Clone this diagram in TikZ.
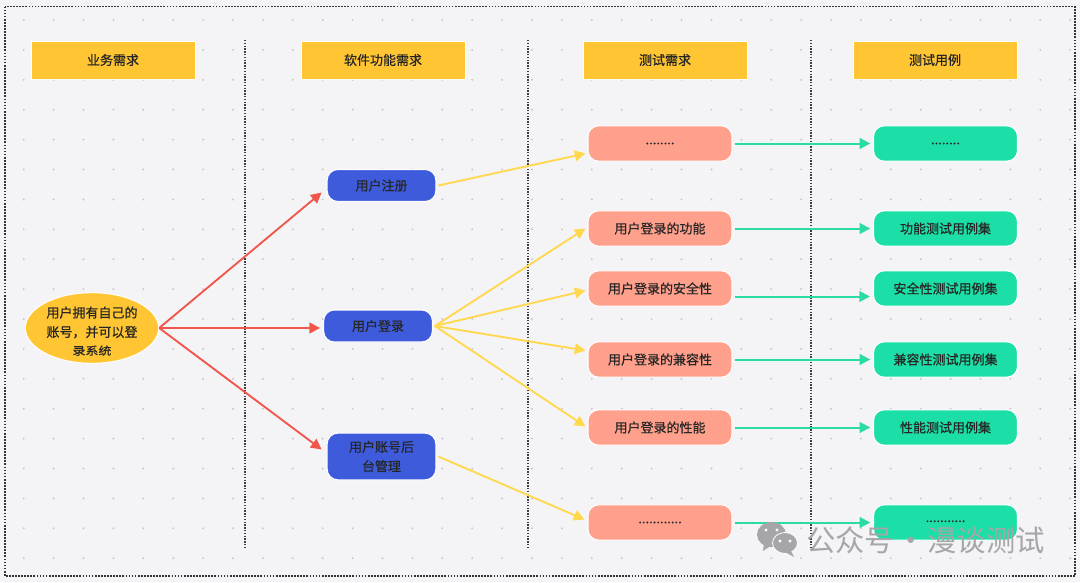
\documentclass[tikz,border=0pt]{standalone}
\usepackage{fontspec}
\setmainfont[FakeBold=0.6,AutoFakeBold=0.6]{Noto Sans CJK SC}
\newfontfamily\markfont{Noto Sans CJK SC}
\usetikzlibrary{arrows.meta,shapes.geometric}
\definecolor{pagebg}{HTML}{F4F4F7}
\definecolor{griddot}{HTML}{C9C9CE}
\definecolor{headfill}{HTML}{FFC533}
\definecolor{funcfill}{HTML}{3D5BDB}
\definecolor{testfill}{HTML}{FFA08C}
\definecolor{casefill}{HTML}{1BDFA6}
\definecolor{redline}{HTML}{F0564A}
\definecolor{yellowline}{HTML}{FFD84D}
\definecolor{greenline}{HTML}{2ADBA6}
\definecolor{markgray}{HTML}{A6A6A8}
\tikzset{
  nodetext/.style={font=\fontsize{9.75pt}{14.5pt}\selectfont,text=black!85,align=center,inner sep=0pt},
  headbox/.style={nodetext,fill=headfill,draw=white,line width=0.5pt,minimum width=123pt,minimum height=28.5pt},
  funcbox/.style={nodetext,fill=funcfill,draw=white,line width=0.8pt,rounded corners=8pt,minimum width=81.5pt,minimum height=24pt},
  testbox/.style={nodetext,fill=testfill,draw=white,line width=0.8pt,rounded corners=8pt,minimum width=108pt,minimum height=26.5pt},
  casebox/.style={nodetext,fill=casefill,draw=white,line width=0.8pt,rounded corners=8pt,minimum width=108pt,minimum height=26.5pt},
  divider/.style={densely dotted,line width=1.1pt,black!75},
  redarrow/.style={->,redline,line width=1.4pt},
  yellowarrow/.style={->,yellowline,line width=1.4pt},
  greenarrow/.style={->,greenline,line width=1.5pt}
}
\begin{document}
\begin{tikzpicture}[x=0.75pt,y=-0.75pt,>={Stealth[inset=0pt,length=8pt,width=8pt]}]
\useasboundingbox (0,0) rectangle (1080,582);
\fill[pagebg] (0,0) rectangle (1080,582);
\foreach \i in {0,...,35} \foreach \j in {0,...,18}
  \fill[griddot] (23.7+29.9*\i,20+29.9*\j) circle (1.1);
\draw[densely dotted,line width=1.3pt,black!80] (5,6.5) rectangle (1075,576);
\draw[divider] (245,40) -- (245,547);
\draw[divider] (528,40) -- (528,547);
\draw[divider] (811,40) -- (811,547);

\node[headbox] (head1) at (113,60) {业务需求};
\node[headbox] (head2) at (383,60) {软件功能需求};
\node[headbox] (head3) at (665,60) {测试需求};
\node[headbox] (head4) at (935,60) {测试用例};

\node[ellipse,nodetext,inner sep=-5pt,fill=headfill,draw=white,line width=0.8pt,minimum width=100pt,minimum height=53pt] (goal) at (92,328)
  {\rule{0pt}{13pt}用户拥有自己的\\账号，并可以登\\[-1pt]\scalebox{1}[0.85]{录系统}};

\node[funcbox] (reg) at (381.5,185.5) {用户注册};
\node[funcbox] (login) at (378,326) {用户登录};
\node[funcbox,minimum height=35pt] (admin) at (381.5,456.5) {用户账号后\\台管理};

\node[testbox] (test1) at (660,143.5) {........};
\node[testbox] (test2) at (660,228.5) {用户登录的功能};
\node[testbox] (test3) at (660,288.5) {用户登录的安全性};
\node[testbox] (test4) at (660,359.5) {用户登录的兼容性};
\node[testbox] (test5) at (660,427.5) {用户登录的性能};
\node[testbox] (test6) at (660,522.5) {............};

\node[casebox] (case1) at (945.5,143.5) {........};
\node[casebox] (case2) at (945.5,228.5) {功能测试用例集};
\node[casebox] (case3) at (945.5,288.5) {安全性测试用例集};
\node[casebox] (case4) at (945.5,359.5) {兼容性测试用例集};
\node[casebox] (case5) at (945.5,427.5) {性能测试用例集};
\node[casebox] (case6) at (945.5,522.5) {\raisebox{2pt}{...........}};

\draw[redarrow] (goal.east) -- ([shift={(-5,7)}]reg.west);
\draw[redarrow] (goal.east) -- ([shift={(-3,2)}]login.west);
\draw[redarrow] (goal.east) -- ([shift={(-5,-7)}]admin.west);

\draw[yellowarrow] ([xshift=1.5pt]reg.east) -- ([shift={(-2,10)}]test1.west);
\draw[yellowarrow] ([xshift=1.5pt]login.east) -- ([shift={(-2,0)}]test2.west);
\draw[yellowarrow] ([xshift=1.5pt]login.east) -- ([shift={(-2,2)}]test3.west);
\draw[yellowarrow] ([xshift=1.5pt]login.east) -- ([shift={(-2,-9)}]test4.west);
\draw[yellowarrow] ([xshift=1.5pt]login.east) -- ([shift={(-2,-1)}]test5.west);
\draw[yellowarrow] ([xshift=1.5pt]admin.east) -- ([shift={(-3,-3)}]test6.west);

\draw[greenarrow] ([xshift=1.5pt]test1.east) -- ([xshift=-2pt]case1.west);
\draw[greenarrow] ([xshift=1.5pt]test2.east) -- ([xshift=-2pt]case2.west);
\draw[greenarrow] ([shift={(2,8)}]test3.east) -- ([shift={(-3,8)}]case3.west);
\draw[greenarrow] ([xshift=1.5pt]test4.east) -- ([xshift=-2pt]case4.west);
\draw[greenarrow] ([xshift=1.5pt]test5.east) -- ([xshift=-2pt]case5.west);
\draw[greenarrow] ([xshift=1.5pt]test6.east) -- ([xshift=-2pt]case6.west);

% wechat mark
\fill[markgray] (771.5,534.5) ellipse (14.5 and 12.5);
\fill[markgray] (764,543) -- (763,551) -- (772,545) -- cycle;
\fill[markgray,draw=white,line width=0.6pt] (785,543) ellipse (12.5 and 10.5);
\fill[markgray] (791,551) -- (794,557) -- (785,552) -- cycle;
\foreach \ex/\ey in {766/530,777/530,780/541,790/541}
  \fill[white] (\ex,\ey) circle (1.6);
\node[text=markgray,font=\markfont\fontsize{22pt}{24pt}\selectfont,inner sep=0pt,anchor=west] (mark) at (806,540) {公众号\makebox[25pt]{·}漫谈测试};
\end{tikzpicture}
\end{document}
